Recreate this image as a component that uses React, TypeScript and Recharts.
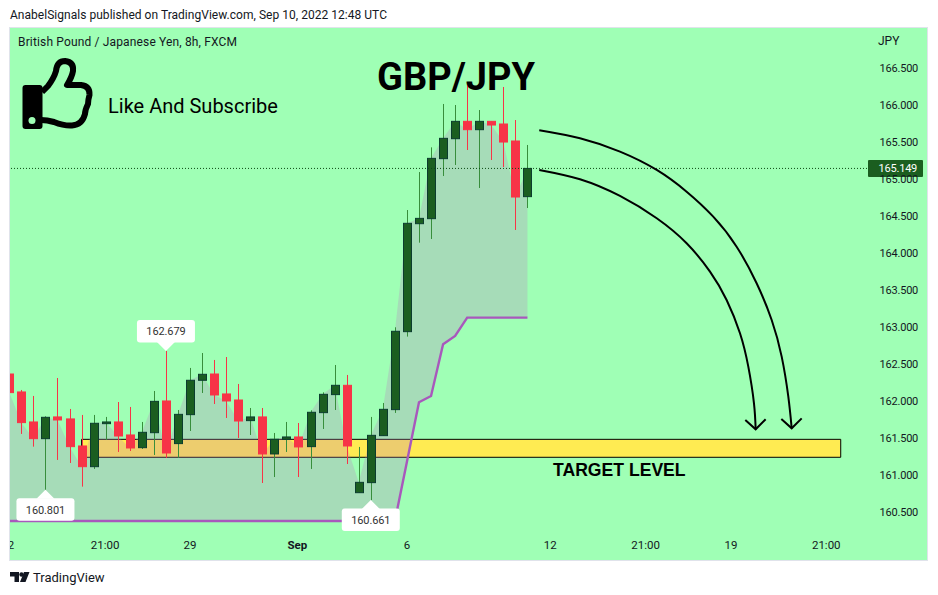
import {
  Area,
  Bar,
  ComposedChart,
  Line,
  ReferenceArea,
  ReferenceDot,
  ReferenceLine,
  XAxis,
  YAxis,
} from 'recharts';

// one entry per 8h candle, GBP/JPY FXCM
const OPENS = [
  162.367, 162.124, 161.718, 161.492, 161.786, 161.759, 161.393, 161.113, 161.695, 161.718, 161.542,
  161.37, 161.573, 162.002, 161.425, 161.817, 162.282, 162.367, 162.097, 162.015, 161.736, 161.786,
  161.285, 161.483, 161.515, 161.384, 161.844, 162.088, 162.214, 160.761, 160.897, 161.533, 161.885,
  162.94, 164.401, 164.469, 165.281, 165.551, 165.786, 165.673, 165.786, 165.75, 165.52, 164.767,
];
const HIGHS = [
  162.4, 162.151, 162.07, 161.795, 162.313, 161.894, 161.813, 161.813, 161.786, 161.988, 161.921,
  161.718, 162.137, 162.679, 161.88, 162.449, 162.651, 162.557, 162.597, 162.232, 161.907, 161.907,
  161.569, 161.718, 161.704, 161.876, 162.119, 162.489, 162.354, 161.38, 161.786, 161.975, 162.999,
  164.586, 165.1, 165.434, 166.021, 166.007, 166.318, 165.939, 165.786, 166.251, 165.804, 165.466,
];
const LOWS = [
  162.11, 161.556, 161.384, 160.801, 161.204, 161.163, 160.843, 161.082, 161.474, 161.312, 161.325,
  161.352, 161.271, 161.231, 161.231, 161.596, 162.11, 161.961, 161.772, 161.501, 161.542, 160.892,
  160.973, 161.312, 160.973, 161.082, 161.623, 161.88, 161.149, 160.761, 160.661, 161.533, 161.84,
  162.873, 164.144, 164.194, 165.046, 165.195, 165.398, 164.884, 165.263, 165.168, 164.316, 164.613,
];
const CLOSES = [
  162.115, 161.709, 161.492, 161.781, 161.745, 161.384, 161.113, 161.7, 161.718, 161.528, 161.366,
  161.578, 161.997, 161.298, 161.821, 162.282, 162.363, 162.083, 162.002, 161.731, 161.786, 161.285,
  161.483, 161.515, 161.38, 161.849, 162.092, 162.214, 161.393, 160.901, 161.537, 161.889, 162.945,
  164.406, 164.473, 165.285, 165.556, 165.786, 165.673, 165.786, 165.736, 165.506, 164.762, 165.149,
];
// trailing stop line under the candles
const STOPS = [
  160.378, 160.378, 160.378, 160.378, 160.378, 160.378, 160.378, 160.378, 160.378, 160.378, 160.378,
  160.378, 160.378, 160.378, 160.378, 160.378, 160.378, 160.378, 160.378, 160.378, 160.378, 160.378,
  160.378, 160.378, 160.378, 160.378, 160.378, 160.378, 160.378, 160.378, 160.378, 160.378, 160.378,
  161.181, 161.984, 162.07, 162.769, 162.882, 163.13, 163.13, 163.13, 163.13, 163.13, 163.13,
];

const PRICE_TICKS = [160.5, 161, 161.5, 162, 162.5, 163, 163.5, 164, 164.5, 165, 165.5, 166, 166.5];
const TIME_TICKS = [0.14, 7.95, 15, 23.9, 33, 44.9, 52.8, 59.9, 67.8];
const TIME_LABELS = ['2', '21:00', '29', 'Sep', '6', '12', '21:00', '19', '21:00'];

const LAST_PRICE = 165.149;
const TARGET_ZONE = { from: 6.0, to: 69.0, low: 161.24, high: 161.483 };
const CALLOUTS = [
  { i: 3, price: 160.801, below: true },
  { i: 13, price: 162.679, below: false },
  { i: 30, price: 160.661, below: true },
];

// hand drawn arrows, in candle index / price
const ARROW_UPPER = [
  { i: 43.98, price: 165.665 }, { i: 47.36, price: 165.557 }, { i: 50.68, price: 165.376 },
  { i: 53.73, price: 165.128 }, { i: 56.21, price: 164.834 }, { i: 58.42, price: 164.496 },
  { i: 60.36, price: 164.09 }, { i: 62.02, price: 163.595 }, { i: 63.27, price: 163.098 },
  { i: 64.1, price: 162.602 }, { i: 64.65, price: 162.06 }, { i: 64.93, price: 161.632 },
];
const ARROW_LOWER = [
  { i: 43.98, price: 165.128 }, { i: 47.36, price: 165.002 }, { i: 50.68, price: 164.776 },
  { i: 53.73, price: 164.474 }, { i: 56.21, price: 164.136 }, { i: 58.15, price: 163.752 },
  { i: 59.53, price: 163.369 }, { i: 60.64, price: 162.918 }, { i: 61.33, price: 162.466 },
  { i: 61.8, price: 161.971 }, { i: 61.94, price: 161.619 },
];
const HEAD_UPPER = [
  { i: 64.07, price: 161.758 }, { i: 64.93, price: 161.632 }, { i: 65.76, price: 161.767 },
];
const HEAD_LOWER = [
  { i: 61.08, price: 161.745 }, { i: 61.94, price: 161.619 }, { i: 62.77, price: 161.755 },
];

const BG = '#9fffb5';
const UP = '#1b5e20';
const UP_BORDER = '#0b3d2e';
const UP_WICK = '#388e3c';
const DOWN = '#f73447';
const PURPLE = '#a858bc';
const TEXT = '#131722';
const FONT = 'Roboto, sans-serif';

const candles = OPENS.map((open, i) => ({
  i,
  open,
  high: HIGHS[i],
  low: LOWS[i],
  close: CLOSES[i],
  stop: STOPS[i],
}));

function Candle({ x, y, width, height, payload }: any) {
  const { open, high, low, close } = payload;
  const perUnit = height / (high - low);
  const up = close >= open;
  const cx = Math.round(x + width / 2) + 0.5;
  const top = y + (high - Math.max(open, close)) * perUnit;
  const bodyH = Math.max(Math.abs(open - close) * perUnit, 1);
  return (
    <g>
      <line x1={cx} x2={cx} y1={y} y2={y + height} stroke={up ? UP_WICK : DOWN} />
      <rect
        x={cx - 4}
        y={top}
        width={8}
        height={bodyH}
        fill={up ? UP : DOWN}
        stroke={up ? UP_BORDER : DOWN}
      />
    </g>
  );
}

function Callout({ cx, cy, value, below }: any) {
  const boxY = below ? cy + 8.5 : cy - 31;
  const wing = below ? cy + 9 : cy - 9;
  return (
    <g>
      <rect x={cx - 29} y={boxY} width={58} height={22.5} rx={3} fill="#fff" />
      <path d={`M${cx - 9} ${wing} L${cx} ${cy} L${cx + 9} ${wing} Z`} fill="#fff" />
      <text x={cx} y={boxY + 15.5} textAnchor="middle" fontSize={11} letterSpacing={-0.1} fontFamily={FONT} fill="#333">
        {value.toFixed(3)}
      </text>
    </g>
  );
}

function TimeTick({ x, y, index }: any) {
  const label = TIME_LABELS[index];
  const bold = label === 'Sep';
  return (
    <text
      x={x}
      y={y + 9}
      textAnchor="middle"
      fontSize={11.5}
      fontFamily={FONT}
      fontWeight={bold ? 700 : 400}
      fill={TEXT}
    >
      {label}
    </text>
  );
}

function PriceTag({ viewBox }: any) {
  const right = viewBox.x + viewBox.width;
  return (
    <g>
      <rect x={right + 1} y={viewBox.y - 8.5} width={55} height={17} rx={1} fill={UP} />
      <text x={right + 11.5} y={viewBox.y + 4} fontSize={11} letterSpacing={-0.2} fontFamily={FONT} fill="#fff">
        {LAST_PRICE.toFixed(3)}
      </text>
    </g>
  );
}

function Note({ x, y, size, children, style }: any) {
  return (
    <div
      style={{
        position: 'absolute',
        left: x,
        top: y,
        fontSize: size,
        lineHeight: 1,
        whiteSpace: 'nowrap',
        fontFamily: FONT,
        color: TEXT,
        ...style,
      }}
    >
      {children}
    </div>
  );
}

export default function App() {
  return (
    <div style={{ position: 'absolute', left: 0, top: 0, width: 938, height: 595, background: '#fff', overflow: 'hidden' }}>
      <div style={{ position: 'absolute', left: 9, top: 27, width: 917, height: 532, border: '1px solid #e0e3eb' }} />
      <div style={{ position: 'absolute', left: 10, top: 28 }}>
        <ComposedChart
          width={917}
          height={532}
          data={candles}
          margin={{ top: 0, right: 0, bottom: 0, left: 0 }}
          style={{ background: BG }}
        >
          <XAxis
            dataKey="i"
            type="number"
            domain={[0.058, 71.18]}
            allowDataOverflow
            ticks={TIME_TICKS}
            interval={0}
            tick={<TimeTick />}
            tickLine={false}
            axisLine={false}
            height={28}
          />
          <YAxis
            orientation="right"
            type="number"
            domain={[160.229, 167.049]}
            allowDataOverflow
            ticks={PRICE_TICKS}
            interval={0}
            tickFormatter={(v: number) => v.toFixed(3)}
            tick={{ fontSize: 11, letterSpacing: -0.2, fontFamily: FONT, fill: TEXT, textAnchor: 'start' }}
            tickLine={false}
            axisLine={false}
            tickMargin={6.5}
            width={60}
          />
          <ReferenceArea
            x1={TARGET_ZONE.from}
            x2={TARGET_ZONE.to}
            y1={TARGET_ZONE.low}
            y2={TARGET_ZONE.high}
            fill="#ffeb52"
            fillOpacity={1}
            stroke="#000"
            strokeWidth={1}
            zIndex={50}
          />
          <Area
            dataKey={(d: any) => [d.stop, d.close]}
            type="linear"
            stroke="none"
            fill="#ba78c0"
            fillOpacity={0.26}
            isAnimationActive={false}
            dot={false}
            activeDot={false}
          />
          <Line
            dataKey="stop"
            type="linear"
            stroke={PURPLE}
            strokeWidth={2.4}
            dot={false}
            activeDot={false}
            isAnimationActive={false}
          />
          <Bar
            dataKey={(d: any) => [d.low, d.high]}
            barSize={9}
            shape={<Candle />}
            isAnimationActive={false}
          />
          <ReferenceLine
            y={LAST_PRICE}
            stroke="#0b4a14"
            strokeDasharray="1 2"
            label={<PriceTag />}
          />
          {[ARROW_UPPER, ARROW_LOWER].map((points, n) => (
            <Line
              key={n}
              data={points}
              dataKey="price"
              type="natural"
              stroke="#000"
              strokeWidth={2}
              dot={false}
              activeDot={false}
              isAnimationActive={false}
            />
          ))}
          {[HEAD_UPPER, HEAD_LOWER].map((points, n) => (
            <Line
              key={n}
              data={points}
              dataKey="price"
              type="linear"
              stroke="#000"
              strokeWidth={2}
              dot={false}
              activeDot={false}
              isAnimationActive={false}
            />
          ))}
          {CALLOUTS.map((c) => (
            <ReferenceDot
              key={c.i}
              x={c.i}
              y={c.price}
              shape={<Callout value={c.price} below={c.below} />}
            />
          ))}
        </ComposedChart>
      </div>
      <div style={{ position: 'absolute', left: 0, top: 27, width: 9, height: 534, background: '#fff' }} />

      <Note x={10} y={9} size={12} style={{ letterSpacing: 0.03 }}>AnabelSignals published on TradingView.com, Sep 10, 2022 12:48 UTC</Note>
      <Note x={18} y={36} size={12} style={{ letterSpacing: 0.15 }}>British Pound / Japanese Yen, 8h, FXCM</Note>
      <Note x={878} y={35} size={12}>JPY</Note>
      <Note x={108} y={96} size={20} style={{ color: '#000' }}>Like And Subscribe</Note>
      <Note x={377} y={58} size={38} style={{ color: '#000', fontWeight: 700 }}>GBP/JPY</Note>
      <Note x={553} y={462} size={17.6} style={{ color: '#000', fontWeight: 700, fontFamily: 'Liberation Sans' }}>TARGET LEVEL</Note>
      <Note x={33} y={571} size={13}>TradingView</Note>

      <svg width={938} height={595} style={{ position: 'absolute', left: 0, top: 0, pointerEvents: 'none' }}>
        <path
          d="M42 92 L48 86 Q54 78 56 71 Q57 61 65 61 Q74 62 73 71 Q72 77 67 85 L81 85 Q90 86 89.5 95 Q88 100 88 104 Q85 110 85 114 Q82 125 72 125.5 Q64 126 54 122 Q47 120 41 120"
          fill="none"
          stroke="#000"
          strokeWidth={6}
          strokeLinejoin="round"
        />
        <rect x={22.5} y={85} width={20} height={44} rx={3} fill="#000" />
        <circle cx={32} cy={120.5} r={3.5} fill={BG} />
        <path d="M10 572 H19 V582 H14.5 V576.5 H10 Z M24 572 H29.5 L25.5 582 H20 Z" fill="#131722" />
        <circle cx={21.5} cy={574.5} r={2.2} fill="#131722" />
      </svg>
    </div>
  );
}
